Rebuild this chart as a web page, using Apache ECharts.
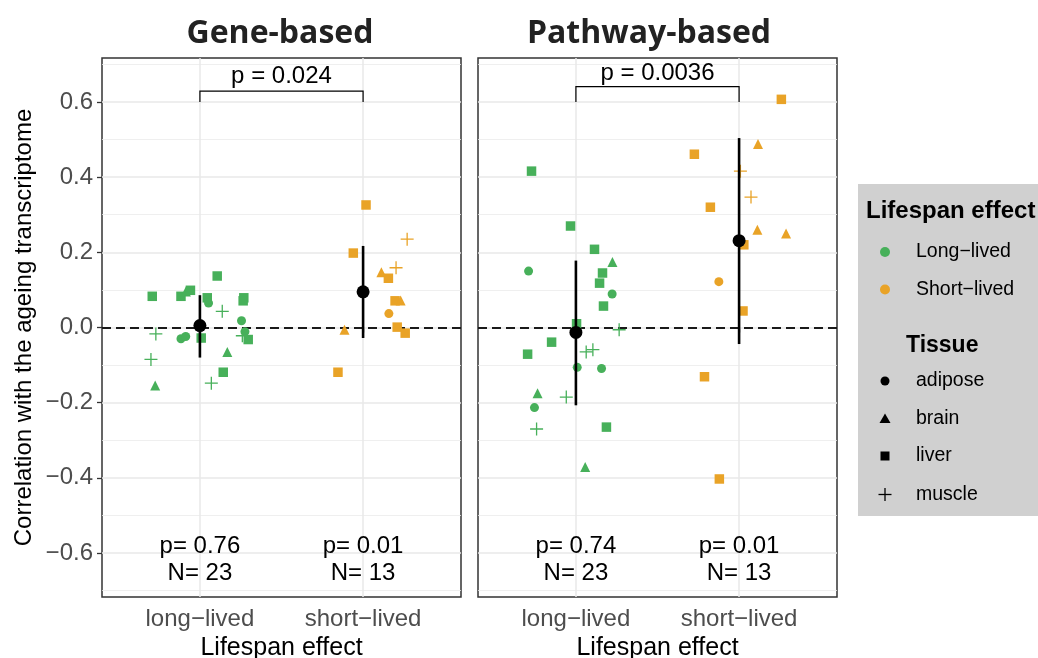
<!DOCTYPE html>
<html><head><meta charset="utf-8">
<script src="https://cdn.jsdelivr.net/npm/echarts@6/dist/echarts.min.js"></script>
<style>html,body{margin:0;padding:0;background:#fff}#c{width:1038px;height:658px}</style>
</head><body><div id="c"></div>
<script>
const categories = ['long\u2212lived', 'short\u2212lived'];
const categoryPos = [1, 2];
const yTicks = [-0.6, -0.4, -0.2, 0, 0.2, 0.4, 0.6];
const yMinor = [-0.7, -0.5, -0.3, -0.1, 0.1, 0.3, 0.5, 0.7];
const panelTitles = ['Gene-based', 'Pathway-based'];

// [jittered x, correlation, tissue]
const geneLong = [
  [0.708, 0.083, 'liver'], [0.884, 0.083, 'liver'], [0.914, 0.096, 'brain'],
  [0.942, 0.099, 'liver'], [1.106, 0.137, 'liver'], [1.045, 0.079, 'liver'],
  [1.053, 0.065, 'adipose'], [1.137, 0.043, 'muscle'], [1.269, 0.079, 'liver'],
  [1.265, 0.071, 'liver'], [1.255, 0.018, 'adipose'], [0.730, -0.017, 'muscle'],
  [0.884, -0.030, 'adipose'], [0.913, -0.024, 'adipose'], [1.008, -0.028, 'liver'],
  [1.276, -0.011, 'adipose'], [1.260, -0.022, 'muscle'], [1.296, -0.032, 'liver'],
  [1.168, -0.065, 'brain'], [0.700, -0.085, 'muscle'], [1.143, -0.119, 'liver'],
  [1.070, -0.148, 'muscle'], [0.726, -0.154, 'brain']
];
const geneShort = [
  [2.018, 0.326, 'liver'], [2.270, 0.235, 'muscle'], [1.940, 0.198, 'liver'],
  [2.202, 0.159, 'muscle'], [2.112, 0.147, 'brain'], [2.155, 0.131, 'liver'],
  [2.196, 0.071, 'liver'], [2.230, 0.072, 'brain'], [2.158, 0.037, 'adipose'],
  [1.886, -0.006, 'brain'], [2.209, 0.001, 'liver'], [2.258, -0.015, 'liver'],
  [1.846, -0.119, 'liver']
];
const pathLong = [
  [0.728, 0.416, 'liver'], [0.967, 0.270, 'liver'], [1.114, 0.208, 'liver'],
  [1.224, 0.174, 'brain'], [0.710, 0.150, 'adipose'], [1.163, 0.145, 'liver'],
  [1.145, 0.118, 'liver'], [1.222, 0.089, 'adipose'], [1.169, 0.057, 'liver'],
  [1.004, 0.010, 'liver'], [1.265, -0.006, 'muscle'], [0.851, -0.039, 'liver'],
  [0.704, -0.071, 'liver'], [1.063, -0.065, 'muscle'], [1.104, -0.059, 'muscle'],
  [1.008, -0.106, 'adipose'], [1.157, -0.109, 'adipose'], [0.765, -0.175, 'brain'],
  [0.941, -0.185, 'muscle'], [0.746, -0.213, 'adipose'], [0.759, -0.270, 'muscle'],
  [1.187, -0.265, 'liver'], [1.057, -0.371, 'brain']
];
const pathShort = [
  [2.259, 0.607, 'liver'], [2.116, 0.488, 'brain'], [1.726, 0.461, 'liver'],
  [2.008, 0.416, 'muscle'], [2.073, 0.347, 'muscle'], [1.824, 0.320, 'liver'],
  [2.112, 0.260, 'brain'], [2.288, 0.250, 'brain'], [2.029, 0.220, 'liver'],
  [1.876, 0.122, 'adipose'], [2.024, 0.044, 'liver'], [1.788, -0.131, 'liver'],
  [1.879, -0.403, 'liver']
];

// mean and interval per category
const geneMean = [0.005, 0.095], geneLo = [-0.080, -0.028], geneHi = [0.086, 0.217];
const pathMean = [-0.013, 0.231], pathLo = [-0.207, -0.044], pathHi = [0.178, 0.504];

// comparison bracket: [x1, x2, base y, top y, label y]
const geneBracket = [1, 2, 0.600, 0.629, 0.668];
const pathBracket = [1, 2, 0.600, 0.641, 0.677];
const geneBracketLabel = 'p = 0.024';
const pathBracketLabel = 'p = 0.0036';

// per-category annotations
const annotY = -0.618;
const geneAnnot = ['p= 0.76\nN= 23', 'p= 0.01\nN= 13'];
const pathAnnot = ['p= 0.74\nN= 23', 'p= 0.01\nN= 13'];

const groupNames = ['Long\u2212lived', 'Short\u2212lived'];
const tissueNames = ['adipose', 'brain', 'liver', 'muscle'];

// ---------- styling ----------
const GREEN = '#47B05A', ORANGE = '#E9A327';
const FONT = '"Liberation Sans", Arial, Helvetica, sans-serif';
const PLUS = 'path://M5.4,0H6.6V5.4H12V6.6H6.6V12H5.4V6.6H0V5.4H5.4Z';
const symbolOf = { adipose: 'circle', brain: 'triangle', liver: 'rect', muscle: PLUS };
const sizeOf = { adipose: 9, brain: 10, liver: 9.5, muscle: 13 };
const GRIDS = [
  { left: 102, top: 58, width: 359, height: 539 },
  { left: 478, top: 58, width: 359, height: 539 }
];
const YMIN = -0.717, YMAX = 0.717;

const chart = echarts.init(document.getElementById('c'), null, { renderer: 'canvas' });

function fmtY(v) {
  const s = (Math.abs(v) < 1e-9 ? 0 : v).toFixed(1);
  return s.replace('-', '\u2212');
}

const series = [];
const xAxes = [], yAxes = [];
GRIDS.forEach((g, i) => {
  xAxes.push({
    gridIndex: i, type: 'value', min: 0.4, max: 2.6,
    axisLine: { show: false },
    splitLine: { show: false },
    axisTick: { show: true, customValues: categoryPos, length: 5, lineStyle: { color: '#333', width: 1.3 } },
    axisLabel: {
      customValues: categoryPos, margin: 10, color: '#4D4D4D', fontSize: 24, fontFamily: FONT,
      formatter: v => categories[categoryPos.indexOf(Math.round(v))] || ''
    },
    name: 'Lifespan effect', nameLocation: 'middle', nameGap: 39,
    nameTextStyle: { color: '#000', fontSize: 25, fontFamily: FONT }
  });
  yAxes.push({
    gridIndex: i, type: 'value', min: YMIN, max: YMAX,
    axisLine: { show: false },
    splitLine: { show: false },
    axisTick: { show: i === 0, customValues: yTicks, length: 5, lineStyle: { color: '#333', width: 1.3 } },
    axisLabel: {
      show: i === 0, customValues: yTicks, margin: 9, color: '#4D4D4D', fontSize: 24, fontFamily: FONT,
      formatter: v => fmtY(v)
    },
    name: i === 0 ? 'Correlation with the ageing transcriptome' : '',
    nameLocation: 'middle', nameGap: 66,
    nameTextStyle: { color: '#000', fontSize: 24, fontFamily: FONT }
  });

  // grid lines
  series.push({
    type: 'scatter', xAxisIndex: i, yAxisIndex: i, data: [], silent: true, z: 1,
    markLine: {
      z: 1, silent: true, symbol: ['none', 'none'], animation: false, label: { show: false },
      data: [
        ...yMinor.map(v => ({ yAxis: v, lineStyle: { color: '#EBEBEB', width: 0.8, type: 'solid' } })),
        ...yTicks.map(v => ({ yAxis: v, lineStyle: { color: '#E8E8E8', width: 1.5, type: 'solid' } })),
        ...categoryPos.map(v => ({ xAxis: v, lineStyle: { color: '#E8E8E8', width: 1.5, type: 'solid' } }))
      ]
    }
  });
  series.push({
    type: 'scatter', xAxisIndex: i, yAxisIndex: i, data: [], silent: true, z: 2,
    markLine: {
      z: 2, silent: true, symbol: ['none', 'none'], animation: false, label: { show: false },
      data: [{ yAxis: 0, lineStyle: { color: '#1A1A1A', width: 2, type: [9, 5] } }]
    }
  });
});

function pointSeries(idx, arr, color, name) {
  return {
    type: 'scatter', name, xAxisIndex: idx, yAxisIndex: idx, z: 3, animation: false,
    data: arr.map(d => ({ value: [d[0], d[1]], symbol: symbolOf[d[2]], symbolSize: sizeOf[d[2]] })),
    itemStyle: { color, opacity: 1 }
  };
}
series.push(pointSeries(0, geneLong, GREEN, groupNames[0]));
series.push(pointSeries(0, geneShort, ORANGE, groupNames[1]));
series.push(pointSeries(1, pathLong, GREEN, groupNames[0]));
series.push(pointSeries(1, pathShort, ORANGE, groupNames[1]));

function rangeSeries(idx, lo, hi) {
  return {
    type: 'custom', xAxisIndex: idx, yAxisIndex: idx, z: 6, animation: false, silent: true,
    data: categoryPos.map((x, k) => [x, lo[k], hi[k]]),
    renderItem: (params, api) => {
      const a = api.coord([api.value(0), api.value(1)]);
      const b = api.coord([api.value(0), api.value(2)]);
      return { type: 'line', shape: { x1: a[0], y1: a[1], x2: b[0], y2: b[1] }, style: { stroke: '#000', lineWidth: 2.6 } };
    }
  };
}
function meanSeries(idx, mean) {
  return {
    type: 'scatter', xAxisIndex: idx, yAxisIndex: idx, z: 7, animation: false, silent: true,
    data: categoryPos.map((x, k) => [x, mean[k]]),
    symbol: 'circle', symbolSize: 13, itemStyle: { color: '#000', opacity: 1 }
  };
}
series.push(rangeSeries(0, geneLo, geneHi), meanSeries(0, geneMean));
series.push(rangeSeries(1, pathLo, pathHi), meanSeries(1, pathMean));

function bracketSeries(idx, br, label) {
  return {
    type: 'custom', xAxisIndex: idx, yAxisIndex: idx, z: 8, animation: false, silent: true,
    data: [br],
    renderItem: (params, api) => {
      const x1 = api.value(0), x2 = api.value(1), yb = api.value(2), yt = api.value(3), yl = api.value(4);
      const p1 = api.coord([x1, yb]), p2 = api.coord([x1, yt]), p3 = api.coord([x2, yt]), p4 = api.coord([x2, yb]);
      const t = api.coord([(x1 + x2) / 2, yl]);
      return {
        type: 'group', children: [
          { type: 'polyline', shape: { points: [p1, p2, p3, p4] }, style: { stroke: '#000', lineWidth: 1.2, fill: null } },
          { type: 'text', x: t[0], y: t[1], style: { text: label, fill: '#000', font: '24px ' + FONT, align: 'center', verticalAlign: 'middle' } }
        ]
      };
    }
  };
}
series.push(bracketSeries(0, geneBracket, geneBracketLabel));
series.push(bracketSeries(1, pathBracket, pathBracketLabel));

function annotSeries(idx, texts) {
  return {
    type: 'custom', xAxisIndex: idx, yAxisIndex: idx, z: 8, animation: false, silent: true,
    data: categoryPos.map(x => [x, annotY]),
    renderItem: (params, api) => {
      const p = api.coord([api.value(0), api.value(1)]);
      return { type: 'text', x: p[0], y: p[1], style: { text: texts[params.dataIndex], fill: '#000', font: '24px ' + FONT, align: 'center', verticalAlign: 'middle', lineHeight: 27 } };
    }
  };
}
series.push(annotSeries(0, geneAnnot), annotSeries(1, pathAnnot));

// ---------- legend & titles (graphic) ----------
const LX = 885;
function legendSymbol(kind, y, color) {
  if (kind === 'circle') return { type: 'circle', shape: { cx: LX, cy: y, r: 4.5 }, style: { fill: color } };
  if (kind === 'triangle') return { type: 'polygon', shape: { points: [[LX - 5.5, y + 4.5], [LX + 5.5, y + 4.5], [LX, y - 5]] }, style: { fill: color } };
  if (kind === 'rect') return { type: 'rect', shape: { x: LX - 4.5, y: y - 4.5, width: 9, height: 9 }, style: { fill: color } };
  return { type: 'group', children: [
    { type: 'line', shape: { x1: LX - 6.5, y1: y, x2: LX + 6.5, y2: y }, style: { stroke: color, lineWidth: 1.3 } },
    { type: 'line', shape: { x1: LX, y1: y - 6.5, x2: LX, y2: y + 6.5 }, style: { stroke: color, lineWidth: 1.3 } }
  ] };
}
const textStyle = (t, x, y, size, weight, align) => ({ type: 'text', x, y, style: { text: t, fill: '#000', font: (weight || 'normal') + ' ' + size + 'px ' + FONT, align: align || 'left', verticalAlign: 'middle' } });
const graphic = [
  { type: 'text', x: 280, y: 34, style: { text: panelTitles[0], fill: '#222', font: 'bold 32px "Open Sans", sans-serif', align: 'center', verticalAlign: 'middle' } },
  { type: 'text', x: 649, y: 34, style: { text: panelTitles[1], fill: '#222', font: 'bold 32px "Open Sans", sans-serif', align: 'center', verticalAlign: 'middle' } },
  { type: 'rect', shape: { x: 858, y: 184, width: 180, height: 332 }, style: { fill: '#D0D0D0' } },
  textStyle('Lifespan effect', 866, 211, 24, 'bold'),
  { type: 'circle', shape: { cx: LX, cy: 252, r: 5 }, style: { fill: GREEN } },
  textStyle(groupNames[0], 916, 252, 19.5),
  { type: 'circle', shape: { cx: LX, cy: 289.5, r: 5 }, style: { fill: ORANGE } },
  textStyle(groupNames[1], 916, 289.5, 19.5),
  textStyle('Tissue', 906, 346, 23, 'bold'),
];
const legendYs = [381, 418.5, 456, 494.5];
tissueNames.forEach((t, k) => {
  graphic.push(legendSymbol(symbolOf[t] === PLUS ? 'plus' : symbolOf[t], legendYs[k], '#000'));
  graphic.push(textStyle(t, 916, legendYs[k], 19.5));
});

chart.setOption({
  animation: false,
  backgroundColor: '#fff',
  textStyle: { fontFamily: FONT },
  grid: GRIDS.map(g => Object.assign({ show: true, borderColor: '#333', borderWidth: 1.5, backgroundColor: '#fff', containLabel: false, outerBoundsMode: 'none' }, g)),
  xAxis: xAxes,
  yAxis: yAxes,
  series,
  graphic
});
</script>
</body></html>
